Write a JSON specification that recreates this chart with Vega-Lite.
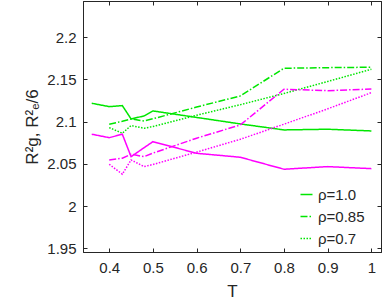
{
  "$schema": "https://vega.github.io/schema/vega-lite/v6.json",
  "width": 298,
  "height": 251,
  "autosize": {"type": "none"},
  "padding": {"left": 83, "top": 1, "right": 1, "bottom": 48},
  "background": "white",
  "config": {
    "view": {"stroke": "#262626", "strokeWidth": 1},
    "font": "Liberation Sans",
    "axis": {
      "grid": false,
      "labelFont": "Liberation Sans",
      "labelFontSize": 15,
      "labelColor": "#262626",
      "domainColor": "#262626",
      "tickColor": "#262626",
      "tickSize": -4,
      "titleFont": "Liberation Sans",
      "titleFontSize": 17,
      "titleFontWeight": "normal",
      "titleColor": "#262626"
    }
  },
  "data": {
    "values": [
      {"T": 0.36, "v": 2.1218, "rho": "1.0", "grp": "Rg"},
      {"T": 0.4, "v": 2.1178, "rho": "1.0", "grp": "Rg"},
      {"T": 0.43, "v": 2.119, "rho": "1.0", "grp": "Rg"},
      {"T": 0.45, "v": 2.1032, "rho": "1.0", "grp": "Rg"},
      {"T": 0.48, "v": 2.1068, "rho": "1.0", "grp": "Rg"},
      {"T": 0.5, "v": 2.1127, "rho": "1.0", "grp": "Rg"},
      {"T": 0.6, "v": 2.105, "rho": "1.0", "grp": "Rg"},
      {"T": 0.7, "v": 2.0973, "rho": "1.0", "grp": "Rg"},
      {"T": 0.8, "v": 2.0902, "rho": "1.0", "grp": "Rg"},
      {"T": 0.9, "v": 2.091, "rho": "1.0", "grp": "Rg"},
      {"T": 1.0, "v": 2.089, "rho": "1.0", "grp": "Rg"},
      {"T": 0.4, "v": 2.0969, "rho": "0.85", "grp": "Rg"},
      {"T": 0.43, "v": 2.1005, "rho": "0.85", "grp": "Rg"},
      {"T": 0.45, "v": 2.1032, "rho": "0.85", "grp": "Rg"},
      {"T": 0.48, "v": 2.1008, "rho": "0.85", "grp": "Rg"},
      {"T": 0.5, "v": 2.1034, "rho": "0.85", "grp": "Rg"},
      {"T": 0.6, "v": 2.1173, "rho": "0.85", "grp": "Rg"},
      {"T": 0.7, "v": 2.1305, "rho": "0.85", "grp": "Rg"},
      {"T": 0.8, "v": 2.1633, "rho": "0.85", "grp": "Rg"},
      {"T": 0.9, "v": 2.164, "rho": "0.85", "grp": "Rg"},
      {"T": 1.0, "v": 2.1645, "rho": "0.85", "grp": "Rg"},
      {"T": 0.4, "v": 2.0929, "rho": "0.7", "grp": "Rg"},
      {"T": 0.43, "v": 2.0863, "rho": "0.7", "grp": "Rg"},
      {"T": 0.45, "v": 2.0953, "rho": "0.7", "grp": "Rg"},
      {"T": 0.48, "v": 2.0922, "rho": "0.7", "grp": "Rg"},
      {"T": 0.5, "v": 2.0942, "rho": "0.7", "grp": "Rg"},
      {"T": 0.6, "v": 2.1076, "rho": "0.7", "grp": "Rg"},
      {"T": 0.7, "v": 2.1201, "rho": "0.7", "grp": "Rg"},
      {"T": 0.8, "v": 2.1334, "rho": "0.7", "grp": "Rg"},
      {"T": 0.9, "v": 2.1476, "rho": "0.7", "grp": "Rg"},
      {"T": 1.0, "v": 2.1621, "rho": "0.7", "grp": "Rg"},
      {"T": 0.36, "v": 2.0851, "rho": "1.0", "grp": "Re"},
      {"T": 0.4, "v": 2.081, "rho": "1.0", "grp": "Re"},
      {"T": 0.43, "v": 2.0851, "rho": "1.0", "grp": "Re"},
      {"T": 0.45, "v": 2.0585, "rho": "1.0", "grp": "Re"},
      {"T": 0.48, "v": 2.0692, "rho": "1.0", "grp": "Re"},
      {"T": 0.5, "v": 2.0763, "rho": "1.0", "grp": "Re"},
      {"T": 0.6, "v": 2.0625, "rho": "1.0", "grp": "Re"},
      {"T": 0.7, "v": 2.0578, "rho": "1.0", "grp": "Re"},
      {"T": 0.8, "v": 2.0436, "rho": "1.0", "grp": "Re"},
      {"T": 0.9, "v": 2.0467, "rho": "1.0", "grp": "Re"},
      {"T": 1.0, "v": 2.0443, "rho": "1.0", "grp": "Re"},
      {"T": 0.4, "v": 2.0546, "rho": "0.85", "grp": "Re"},
      {"T": 0.43, "v": 2.0566, "rho": "0.85", "grp": "Re"},
      {"T": 0.45, "v": 2.0614, "rho": "0.85", "grp": "Re"},
      {"T": 0.48, "v": 2.0585, "rho": "0.85", "grp": "Re"},
      {"T": 0.5, "v": 2.0627, "rho": "0.85", "grp": "Re"},
      {"T": 0.6, "v": 2.0804, "rho": "0.85", "grp": "Re"},
      {"T": 0.7, "v": 2.0961, "rho": "0.85", "grp": "Re"},
      {"T": 0.8, "v": 2.1384, "rho": "0.85", "grp": "Re"},
      {"T": 0.9, "v": 2.1367, "rho": "0.85", "grp": "Re"},
      {"T": 1.0, "v": 2.1387, "rho": "0.85", "grp": "Re"},
      {"T": 0.4, "v": 2.0495, "rho": "0.7", "grp": "Re"},
      {"T": 0.43, "v": 2.0377, "rho": "0.7", "grp": "Re"},
      {"T": 0.45, "v": 2.0546, "rho": "0.7", "grp": "Re"},
      {"T": 0.48, "v": 2.0467, "rho": "0.7", "grp": "Re"},
      {"T": 0.5, "v": 2.0492, "rho": "0.7", "grp": "Re"},
      {"T": 0.6, "v": 2.0639, "rho": "0.7", "grp": "Re"},
      {"T": 0.7, "v": 2.0791, "rho": "0.7", "grp": "Re"},
      {"T": 0.8, "v": 2.097, "rho": "0.7", "grp": "Re"},
      {"T": 0.9, "v": 2.1152, "rho": "0.7", "grp": "Re"},
      {"T": 1.0, "v": 2.1344, "rho": "0.7", "grp": "Re"}
    ]
  },
  "layer": [
    {
      "mark": {"type": "line", "strokeWidth": 1.5, "clip": true},
      "encoding": {
        "x": {
          "field": "T", "type": "quantitative",
          "scale": {"domain": [0.34, 1.022], "nice": false, "zero": false},
          "axis": {"values": [0.4, 0.5, 0.6, 0.7, 0.8, 0.9, 1], "format": "~g", "title": "T", "labelPadding": 12, "titlePadding": 8}
        },
        "y": {
          "field": "v", "type": "quantitative",
          "scale": {"domain": [1.9455, 2.243], "nice": false, "zero": false},
          "axis": {"values": [1.95, 2, 2.05, 2.1, 2.15, 2.2], "format": "~g", "title": "R²g, R²ₑ/6", "labelPadding": 11, "titlePadding": 5}
        },
        "color": {
          "field": "grp", "type": "nominal",
          "scale": {"domain": ["Rg", "Re"], "range": ["#00e600", "#ff00ff"]},
          "legend": null
        },
        "strokeDash": {
          "field": "rho", "type": "nominal",
          "scale": {"domain": ["1.0", "0.85", "0.7"], "range": [[1, 0], [7, 2, 1.5, 2], [1.5, 1.5]]},
          "legend": {
            "orient": "none", "legendX": 216, "legendY": 186,
            "title": null, "symbolType": "stroke", "symbolSize": 144,
            "symbolStrokeColor": "#00e600", "symbolStrokeWidth": 1.5,
            "labelExpr": "'ρ=' + datum.label",
            "labelFont": "Liberation Sans", "labelFontSize": 15, "labelColor": "#262626",
            "rowPadding": 6, "padding": 0
          }
        }
      }
    },
    {
      "mark": {"type": "line", "strokeOpacity": 0},
      "encoding": {
        "x": {"field": "T", "type": "quantitative", "axis": {"orient": "top", "labels": false, "title": null, "values": [0.4, 0.5, 0.6, 0.7, 0.8, 0.9, 1]}},
        "y": {"field": "v", "type": "quantitative", "axis": {"orient": "right", "labels": false, "title": null, "values": [1.95, 2, 2.05, 2.1, 2.15, 2.2]}},
        "detail": {"field": "grp"}
      }
    }
  ],
  "resolve": {"axis": {"x": "independent", "y": "independent"}}
}
